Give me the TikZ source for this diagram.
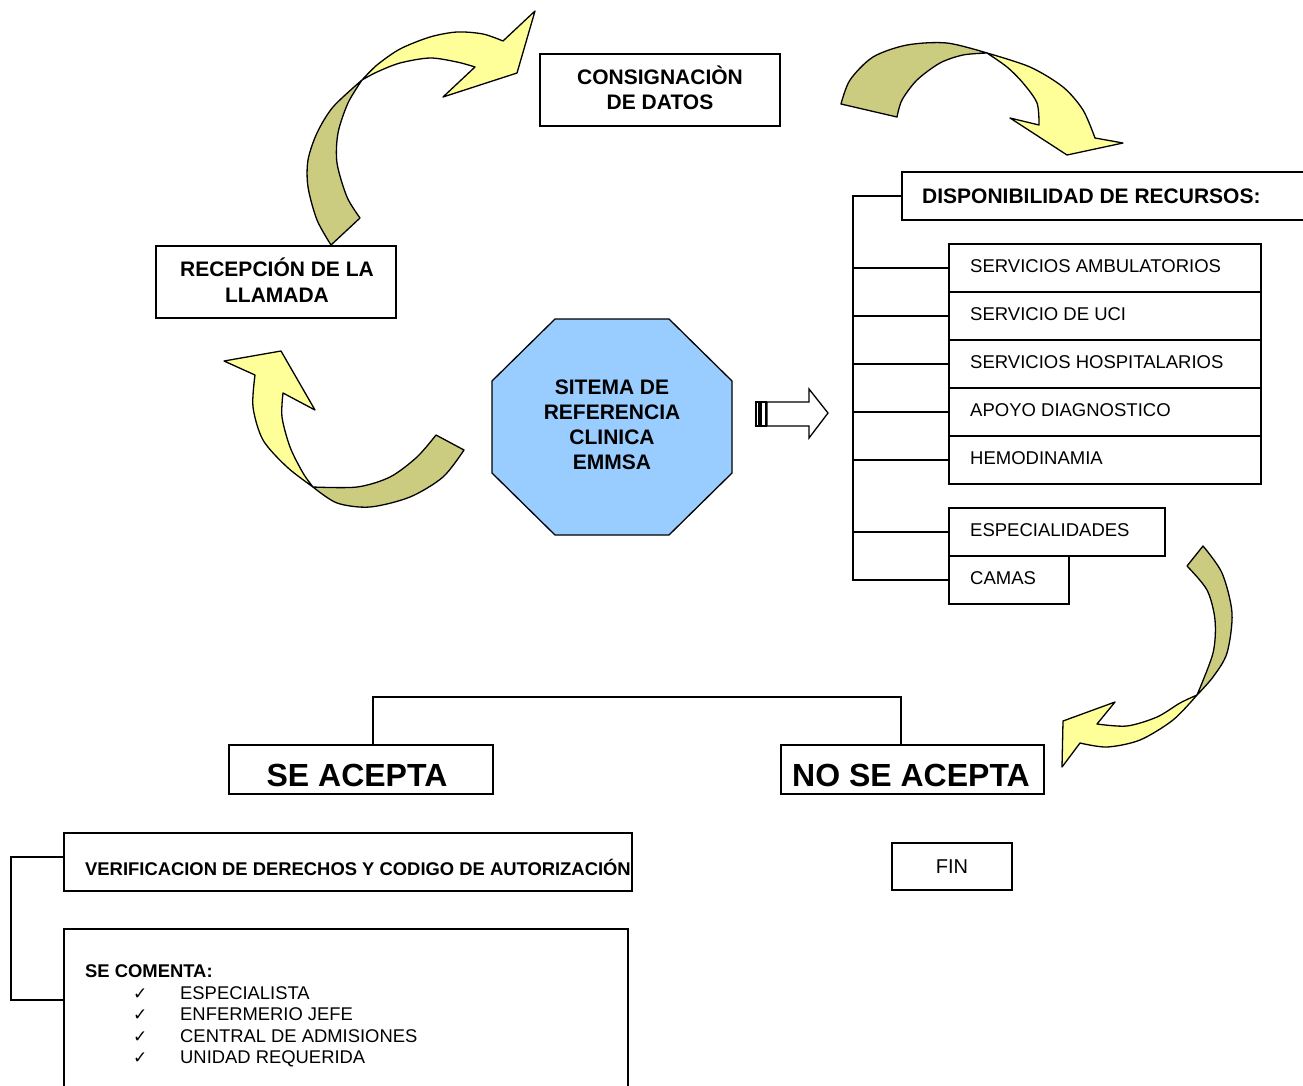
\documentclass[tikz,border=0pt]{standalone}
\usepackage{fontspec}
\setmainfont{Liberation Sans}
\newfontfamily\djv{DejaVu Sans}
\definecolor{olivec}{RGB}{204,204,128}
\definecolor{yellowc}{RGB}{255,255,153}
\definecolor{bluec}{RGB}{153,204,255}
\begin{document}
\begin{tikzpicture}[x=1pt,y=-1pt,
  box/.style={draw, line width=1.5pt, inner sep=0pt, fill=white},
  bl/.style={font=\fontsize{21}{25.5}\selectfont\bfseries, align=center, inner sep=0pt},
  sl/.style={font=\fontsize{18.5}{22}\selectfont, anchor=west, inner sep=0pt},
  big/.style={font=\fontsize{32}{38}\selectfont\bfseries, inner sep=0pt},
  back/.style={draw, line width=1.3pt, line join=round, fill=olivec},
  front/.style={draw, line width=1.3pt, line join=round, fill=yellowc},
  conn/.style={line width=1.5pt},
  chk/.style={anchor=base west, inner sep=0pt, font=\fontsize{18.4}{21}\selectfont}]
\useasboundingbox (0,0) rectangle (1303,1085);

% ---- curved arrow 1 (recepcion -> consignacion)
\filldraw[back] plot[smooth] coordinates {(331,245)(317,220)(308,187)(308,160)(317,133)(333,107)(362,80)}
  -- plot[smooth] coordinates {(362,80)(348,103)(338,133)(337,163)(347,197)(360,218)} -- cycle;
\filldraw[front] plot[smooth] coordinates {(362,80)(377,65)(400,49)(430,37)(457,32)(483,34)(503,41)}
  -- (535,11) -- (517,73) -- (443,97) -- (475,67)
  -- plot[smooth] coordinates {(475,67)(457,62)(430,58)(400,63)(377,72)(362,80)} -- cycle;

% ---- curved arrow 2 (consignacion -> disponibilidad)
\filldraw[back] plot[smooth] coordinates {(841,104)(850,80)(873,57)(907,45)(947,43)(987,53)}
  -- plot[smooth] coordinates {(987,53)(963,55)(940,63)(917,80)(902,100)(897,117)} -- cycle;
\filldraw[front] plot[smooth] coordinates {(987,53)(1030,67)(1063,87)(1083,110)(1095,138)}
  -- (1123,143) -- (1067,155) -- (1010,118) -- (1039,125)
  -- plot[smooth] coordinates {(1039,125)(1037,103)(1023,83)(1007,67)(987,53)} -- cycle;

% ---- curved arrow 3 (sistema -> recepcion)
\filldraw[back] plot[smooth] coordinates {(464,450)(443,477)(410,497)(370,507)(337,503)(313,487)}
  -- plot[smooth] coordinates {(313,487)(357,487)(390,477)(417,457)(436,435)} -- cycle;
\filldraw[front] plot[smooth] coordinates {(313,487)(287,467)(263,440)(253,407)(255,375)}
  -- (224,361) -- (281,351) -- (315,410) -- (283,393)
  -- plot[smooth] coordinates {(283,393)(282,417)(290,447)(303,473)(313,487)} -- cycle;

% ---- curved arrow 4 (recursos -> no se acepta)
\filldraw[back] plot[smooth] coordinates {(1203,546)(1222,573)(1232,613)(1227,653)(1213,677)(1197,695)}
  -- plot[smooth] coordinates {(1197,695)(1213,653)(1215,620)(1207,590)(1187,566)} -- cycle;
\filldraw[front] plot[smooth] coordinates {(1197,695)(1173,720)(1140,740)(1107,747)(1080,743)}
  -- (1062,767) -- (1063,721) -- (1115,702) -- (1097,724)
  -- plot[smooth] coordinates {(1097,724)(1127,726)(1157,717)(1180,703)(1197,695)} -- cycle;

% ---- boxes top
\node[box, minimum width=240pt, minimum height=72pt] (cons) at (660,90) {};
\node[bl] (const) at (660,88) {CONSIGNACIÒN\\DE DATOS};
\node[box, minimum width=240pt, minimum height=72pt] (recep) at (276,282) {};
\node[bl] (recept) at (277,280) {RECEPCIÓN DE LA\\LLAMADA};

% ---- octagon
\filldraw[fill=bluec, line width=1.3pt, line join=round] (555,319) -- (669,319) -- (732,381) -- (732,473)
  -- (669,535) -- (555,535) -- (492,473) -- (492,381) -- cycle;
\node[bl, font=\fontsize{21}{25}\selectfont\bfseries] (octo) at (612,425) {SITEMA DE\\REFERENCIA\\CLINICA\\EMMSA};

% ---- block arrow
\draw[line width=1.3pt, line join=miter] (767,402) -- (809,402) -- (809,389) -- (828,413) -- (809,438) -- (809,426) -- (767,426) -- cycle;
\draw[line width=1.3pt] (756,402) rectangle (759,426);
\draw[line width=1.3pt] (761,402) rectangle (766,426);

% ---- recursos
\node[box, minimum width=410pt, minimum height=48pt] (disp) at (1107,196) {};
\node[bl, anchor=west] (dispt) at (922,196) {DISPONIBILIDAD DE RECURSOS:};
\node[box, minimum width=312pt, minimum height=48pt] (amb) at (1105,268) {};
\node[box, minimum width=312pt, minimum height=48pt] (uci) at (1105,316) {};
\node[box, minimum width=312pt, minimum height=48pt] (hosp) at (1105,364) {};
\node[box, minimum width=312pt, minimum height=48pt] (apoyo) at (1105,412) {};
\node[box, minimum width=312pt, minimum height=48pt] (hemo) at (1105,460) {};
\node[box, minimum width=216pt, minimum height=48pt] (espec) at (1057,532) {};
\node[box, minimum width=120pt, minimum height=48pt] (camas) at (1009,580) {};
\node[sl] (ambt) at (970,266) {SERVICIOS AMBULATORIOS};
\node[sl] (ucit) at (970,314) {SERVICIO DE UCI};
\node[sl] (hospt) at (970,362) {SERVICIOS HOSPITALARIOS};
\node[sl] (apoyot) at (970,410) {APOYO DIAGNOSTICO};
\node[sl] (hemot) at (970,458) {HEMODINAMIA};
\node[sl] (espect) at (970,530) {ESPECIALIDADES};
\node[sl] (camast) at (970,578) {CAMAS};

\coordinate (sp) at (853,196);
\draw[conn] (disp.west) -- (sp) |- (camas.west);
\foreach \n in {amb,uci,hosp,apoyo,hemo,espec}{
  \draw[conn] (\n.west -| sp) -- (\n.west);
}

% ---- acepta / no acepta
\node[box, minimum width=264pt, minimum height=49pt] (si) at (361,769.5) {};
\node[big] (sit) at (357,775) {SE ACEPTA};
\node[box, minimum width=263pt, minimum height=49pt] (no) at (912.5,769.5) {};
\node[big] (not) at (911,775) {NO SE ACEPTA};
\coordinate (bar) at (0,697);
\draw[conn] ([xshift=12pt]si.north) |- (bar -| 901,0) -- ([xshift=-11.5pt]no.north);

% ---- bottom left
\node[box, minimum width=568pt, minimum height=58pt] (verif) at (348,862) {};
\node[anchor=west, inner sep=0pt, font=\fontsize{18.4}{22}\selectfont\bfseries] (veriftext) at (85,867) {VERIFICACION DE DERECHOS Y CODIGO DE AUTORIZACIÓN};
\node[box, minimum width=564pt, minimum height=166pt] (com) at (346,1012) {};
\node[chk, font=\fontsize{18.4}{21}\selectfont\bfseries] (c0) at (85,977) {SE COMENTA:};
\node[chk] (c1) at (133,999) {\makebox[47pt][l]{\djv\fontsize{17}{18}\selectfont ✓}ESPECIALISTA};
\node[chk] (c2) at (133,1020) {\makebox[47pt][l]{\djv\fontsize{17}{18}\selectfont ✓}ENFERMERIO JEFE};
\node[chk] (c3) at (133,1042) {\makebox[47pt][l]{\djv\fontsize{17}{18}\selectfont ✓}CENTRAL DE ADMISIONES};
\node[chk] (c4) at (133,1063) {\makebox[47pt][l]{\djv\fontsize{17}{18}\selectfont ✓}UNIDAD REQUERIDA};
\coordinate (lt) at (11,857);
\coordinate (lb) at (11,1000);
\draw[conn] (verif.west |- lt) -- (lt) -- (lb) -- (com.west |- lb);

% ---- fin
\node[box, minimum width=120pt, minimum height=47pt, font=\fontsize{20}{24}\selectfont] (fin) at (952,866.5) {FIN};
\end{tikzpicture}
\end{document}
